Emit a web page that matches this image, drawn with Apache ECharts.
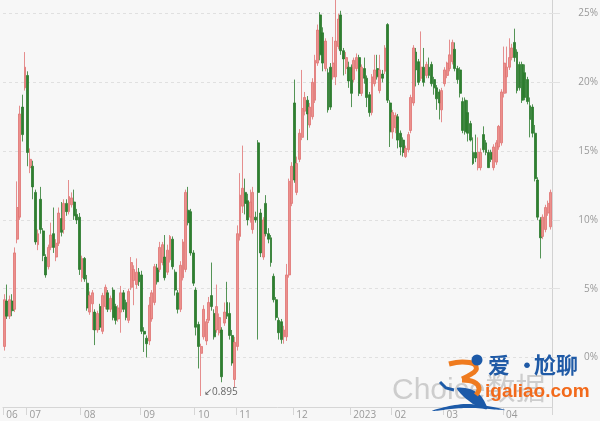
<!DOCTYPE html>
<html>
<head>
<meta charset="utf-8">
<script src="https://cdn.jsdelivr.net/npm/echarts@6/dist/echarts.min.js"></script>
<style>
html,body{margin:0;padding:0;background:#f7f7f7;}
#chart{width:600px;height:421px;}
</style>
</head>
<body>
<div id="chart"></div>
<script>
// Month tick labels and the index of the first trading day of each month
const monthLabels = ["06","07","08","09","10","11","12","2023","02","03","04"];
const monthStarts = [0,9,30,53,74,90,112,134,150,170,193];

// Candles (percent): open, close, low, high
const openVals = [
0.8,4.1,3.0,4.1,3.5,8.6,10.2,18.2,19.6,20.5,
13.8,13.9,12.0,8.2,11.5,9.2,7.3,6.6,8.0,9.0,
7.3,8.3,10.1,9.3,11.2,10.6,11.1,11.3,10.4,10.2,
5.8,7.2,5.4,3.3,3.9,3.3,2.0,3.7,1.9,3.7,
4.7,3.5,4.9,3.7,2.8,3.3,4.7,4.0,2.7,5.1,
5.6,5.3,6.2,6.0,1.9,1.4,1.2,2.8,4.0,6.5,
6.4,6.9,7.3,6.2,7.1,8.6,6.2,4.7,3.5,5.8,
6.4,10.7,10.6,7.6,4.9,2.4,0.3,1.5,1.2,2.7,
4.5,3.2,2.0,1.8,2.0,2.5,4.0,3.2,1.6,-1.6,
0.8,8.8,11.0,12.0,11.4,10.2,9.3,10.2,15.6,10.5,
7.3,11.2,9.0,8.7,5.9,4.2,2.7,2.6,1.5,1.5,
6.0,11.2,18.5,12.0,14.4,16.0,17.9,18.7,16.9,17.5,
18.7,21.4,24.9,23.6,21.0,20.7,21.1,20.4,20.4,22.6,
24.9,22.3,21.0,21.1,21.1,20.2,21.0,21.8,19.2,21.0,
20.3,19.1,17.8,19.9,21.0,19.4,20.6,20.8,24.2,18.5,
16.4,16.7,17.5,16.3,15.8,14.6,15.1,16.5,18.5,22.2,
21.5,20.3,21.1,20.5,21.1,21.3,20.2,19.6,19.3,18.0,
19.9,20.5,21.0,21.5,22.4,21.0,20.9,18.6,18.7,17.8,
17.0,14.9,14.9,13.8,13.8,16.2,15.6,14.9,14.9,13.8,
14.2,15.3,15.6,19.2,20.4,21.1,21.8,22.9,22.2,21.3,
21.3,20.7,20.2,18.3,18.2,16.3,12.9,10.0,8.8,9.3,10.5,9.5];

const closeVals = [
4.2,3.0,4.2,3.4,7.6,10.9,17.7,16.2,21.1,14.9,
14.4,12.4,8.4,9.0,9.3,7.4,6.0,8.0,8.9,8.0,
8.3,10.5,9.1,11.2,10.6,11.7,11.6,10.3,10.0,6.4,
7.2,5.7,3.6,4.5,4.7,2.0,3.2,2.2,4.5,5.1,
3.5,4.3,2.9,2.7,3.6,4.7,3.5,2.9,4.8,6.9,
6.4,6.2,5.5,1.9,1.7,1.0,3.8,4.7,6.6,5.5,
8.0,8.2,5.8,7.8,8.8,6.6,4.9,3.5,6.7,8.4,
12.0,9.8,7.6,5.4,2.2,0.8,0.8,3.5,2.6,4.0,
3.7,1.5,3.7,2.9,-1.4,3.3,3.0,1.6,-0.4,1.1,
9.0,11.8,12.3,11.2,10.0,11.3,12.0,10.0,12.0,7.6,
10.0,9.0,8.6,6.9,4.2,2.9,1.8,1.3,2.0,6.0,
12.8,13.9,12.9,14.1,16.3,18.1,18.9,17.7,18.2,20.0,
21.6,23.8,22.0,21.4,23.0,18.0,18.2,21.4,23.0,24.6,
22.3,21.7,21.8,20.1,19.2,21.6,21.8,19.2,21.1,20.3,
18.9,17.8,20.4,20.9,20.4,20.9,20.3,22.5,18.7,16.4,
17.8,17.6,15.8,15.3,14.9,15.2,16.2,18.9,22.5,20.9,
20.0,21.1,20.0,21.3,20.5,19.9,19.6,18.8,18.5,19.4,
20.9,21.4,22.0,22.9,21.0,20.2,19.2,16.5,16.4,16.3,
15.8,14.1,14.5,14.9,14.9,15.1,14.9,13.8,14.4,15.3,
15.6,16.8,19.3,21.4,21.1,21.8,22.5,21.8,19.4,19.6,
18.7,18.9,18.6,17.3,16.3,13.0,10.2,8.7,10.2,10.9,11.2,12.0];

const lowVals = [
0.5,2.8,2.8,3.0,3.3,8.3,10.0,15.7,19.4,13.9,
13.4,11.5,8.2,7.8,9.0,7.0,5.8,6.4,7.8,7.6,
7.0,8.1,8.8,9.0,10.3,10.4,10.9,10.0,9.7,6.0,
5.5,5.5,3.4,3.1,2.0,0.9,1.8,2.0,1.7,3.5,
3.3,3.3,2.7,2.4,2.6,1.8,3.3,2.7,2.5,4.9,
3.8,5.0,5.2,1.7,0.4,0.0,0.9,2.6,3.8,5.3,
6.2,6.7,5.6,6.0,6.9,6.4,4.5,3.2,3.3,5.6,
6.2,9.6,7.4,5.2,1.6,-0.8,-2.8,1.3,0.9,2.5,
3.4,1.3,1.8,1.6,-1.8,2.3,2.8,1.3,-0.6,-2.2,
0.5,8.5,10.5,10.4,9.6,9.8,9.0,9.8,1.3,7.3,
7.1,8.8,8.3,6.6,4.0,2.7,1.3,1.0,1.0,1.2,
5.8,11.0,12.7,11.8,14.2,15.8,17.6,15.8,16.7,17.3,
18.5,21.2,21.6,20.8,20.8,17.8,18.0,20.2,19.8,22.4,
22.0,20.5,20.6,19.6,18.2,20.0,20.8,19.0,19.0,19.9,
18.2,17.5,17.6,19.7,20.2,19.2,20.0,20.6,18.5,15.3,
15.9,16.3,15.2,14.7,14.6,14.5,14.9,16.3,18.3,19.7,
19.8,20.1,19.7,20.3,20.3,19.7,19.1,18.0,17.3,17.1,
19.7,20.3,20.8,21.3,20.8,19.9,18.9,16.3,16.2,15.7,
15.7,14.0,14.2,13.6,13.6,14.9,14.7,13.8,14.2,13.6,
14.0,15.1,15.4,18.9,19.2,20.9,21.6,21.5,19.2,19.4,
18.5,18.7,18.4,16.0,16.0,12.8,10.0,7.2,8.6,9.1,10.3,9.3];

const highVals = [
4.6,5.3,4.5,4.6,8.0,12.8,18.3,19.1,22.2,20.8,
15.2,14.3,12.2,9.3,12.4,9.4,7.5,8.2,9.8,10.9,
8.6,10.9,11.3,11.5,11.5,12.9,12.0,12.2,10.8,10.5,
7.4,7.3,6.0,4.8,4.9,3.5,3.4,3.9,4.7,5.3,
4.9,4.5,5.1,3.9,3.8,5.2,4.9,4.2,5.0,7.3,
6.7,7.2,6.5,6.3,2.2,1.6,4.4,4.9,6.8,6.8,
8.4,8.4,8.9,8.2,8.9,8.8,6.4,4.9,7.0,8.6,
12.2,12.4,10.8,7.8,5.1,2.6,1.0,3.8,2.8,4.4,
6.9,3.5,5.3,3.2,2.2,4.0,5.5,4.0,2.0,1.5,
9.6,13.4,15.4,13.0,11.9,12.2,12.4,10.6,15.8,10.8,
10.2,11.8,9.4,8.9,6.1,4.4,2.9,2.8,2.3,6.8,
13.0,14.2,20.2,14.6,16.6,20.9,19.3,19.0,18.5,20.3,
22.0,24.2,25.1,24.0,23.2,21.0,21.4,23.3,26.0,25.0,
25.2,22.5,22.2,21.5,21.3,21.8,22.1,22.0,21.3,21.8,
20.5,19.3,20.6,22.0,22.0,22.0,20.9,22.7,24.3,18.7,
18.0,17.8,17.7,16.5,16.0,15.4,16.4,19.1,22.7,22.5,
21.7,23.7,22.5,21.5,21.8,21.5,20.4,19.8,19.5,19.6,
21.1,21.5,23.1,23.1,22.9,21.2,21.1,18.9,18.9,18.7,
17.2,16.0,16.2,16.0,15.2,16.8,15.8,15.1,15.1,15.5,
15.8,16.9,19.5,22.6,22.6,23.2,22.8,23.9,22.4,21.5,
21.5,21.3,20.4,18.9,18.4,16.9,13.1,10.2,10.4,11.1,11.4,12.2];

const yTickValues = [0,5,10,15,20,25];
const minLabelText = "0.895";

const categories = openVals.map((_, i) => {
  const k = monthStarts.indexOf(i);
  return k >= 0 ? monthLabels[k] : "";
});
const candleData = openVals.map((o, i) => [o, closeVals[i], lowVals[i], highVals[i]]);
const minLow = Math.min.apply(null, lowVals);
const minIdx = lowVals.indexOf(minLow);

const chart = echarts.init(document.getElementById('chart'), null, {renderer: 'canvas'});
const isMonthStart = (idx) => categories[idx] !== "";
const BLUE = '#1c5aa8';

chart.setOption({
  backgroundColor: '#f7f7f7',
  animation: false,
  grid: {left: 3, right: 48, top: -2, bottom: 14, outerBoundsMode: 'none', containLabel: false},
  xAxis: {
    type: 'category',
    data: categories,
    boundaryGap: true,
    axisLine: {show: true, onZero: false, lineStyle: {color: '#d6d6d6', width: 1}},
    axisTick: {show: true, interval: isMonthStart, length: 8, lineStyle: {color: '#d6d6d6'}},
    axisLabel: {
      show: true, interval: isMonthStart, align: 'left', padding: [0,0,0,2],
      margin: 3, fontSize: 10, color: '#9a9a9a', fontFamily: 'Open Sans, sans-serif'
    },
    splitLine: {show: false}
  },
  yAxis: {
    type: 'value',
    position: 'right',
    min: -3.6,
    max: 26.13,
    splitNumber: 6,
    scale: false,
    axisLine: {show: true, lineStyle: {color: '#d2d2d2', width: 1}},
    axisTick: {show: true, length: 8, lineStyle: {color: '#e2e2e2'}},
    axisLabel: {
      show: true, showMinLabel: false, showMaxLabel: false,
      align: 'right', margin: 46, fontSize: 10, color: '#9a9a9a', fontFamily: 'Open Sans, sans-serif',
      formatter: (v) => yTickValues.indexOf(v) >= 0 ? v + '%' : ''
    },
    splitLine: {show: true, lineStyle: {color: '#e0e0e0', type: [3, 3], width: 1}}
  },
  series: [{
    type: 'candlestick',
    data: candleData,
    barWidth: 2.4,
    itemStyle: {
      color: '#ec908c',
      color0: '#2f7f30',
      borderColor: '#e07272',
      borderColor0: '#2a7a2c',
      borderWidth: 0.8
    },
    markPoint: {
      symbol: 'circle',
      symbolSize: 0,
      data: [{coord: [minIdx, minLow]}],
      label: {
        show: true, position: 'right', distance: 3, offset: [0, -4],
        formatter: '\u2199' + minLabelText, fontSize: 10, color: '#666', fontFamily: 'Open Sans, sans-serif'
      }
    }
  }],
  graphic: [
    {type: 'text', x: 392, y: 376, z: 100,
     style: {text: 'Choice数据', font: '30px "Liberation Sans", "Noto Sans CJK SC", sans-serif', fill: '#cdcdcd'}},
    {type: 'polygon', z: 101, shape: {points: [[432,411],[466,404],[505,410],[466,408]], smooth: 0.4}, style: {fill: BLUE}},
    {type: 'polygon', z: 101, shape: {points: [[457,388],[470,389],[481,396],[487,409],[475,405],[463,396]], smooth: 0.3}, style: {fill: BLUE}},
    {type: 'polyline', z: 101, shape: {points: [[440,382],[446,388],[454,390]]}, style: {stroke: BLUE, lineWidth: 3, fill: null}},
    {type: 'polyline', z: 102, shape: {points: [[449,364],[462,362],[474,364],[476,370],[468,376],[462,379]], smooth: 0.4},
     style: {stroke: '#ef7b1f', lineWidth: 5, fill: null}},
    {type: 'polyline', z: 102, shape: {points: [[462,380],[474,382],[479,388],[476,395]], smooth: 0.4},
     style: {stroke: '#ef7b1f', lineWidth: 5, fill: null}},
    {type: 'circle', z: 102, shape: {cx: 477, cy: 360, r: 5.5}, style: {fill: BLUE}},
    {type: 'text', x: 488, y: 354, z: 103,
     style: {text: '爱', font: 'bold 22px "Noto Sans CJK SC", sans-serif', fill: '#1f5aa6'}},
    {type: 'text', x: 516, y: 354, z: 103,
     style: {text: '·', font: 'bold 22px "Noto Sans CJK SC", sans-serif', fill: '#1f5aa6'}},
    {type: 'text', x: 534, y: 354, z: 103,
     style: {text: '尬聊', font: 'bold 22px "Noto Sans CJK SC", sans-serif', fill: '#1f5aa6'}},
    {type: 'text', x: 485, y: 382, z: 103,
     style: {text: 'igaliao.com', font: 'bold 19px "Liberation Sans", Arial, sans-serif', fill: '#f26a1b'}}
  ]
});
</script>
</body>
</html>
